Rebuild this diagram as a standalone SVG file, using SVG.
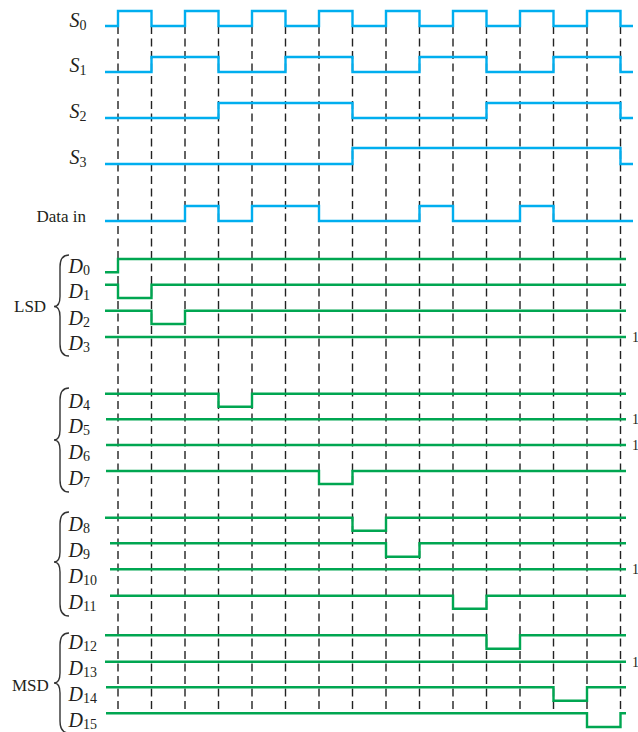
<svg xmlns="http://www.w3.org/2000/svg" width="638" height="732" viewBox="0 0 638 732">
<style>
.bg{fill:#fff}
.blue{fill:none;stroke:#00aeef;stroke-width:2.4;stroke-linejoin:miter}
.green{fill:none;stroke:#00a651;stroke-width:2.4;stroke-linejoin:miter}
.dash{stroke:#222;stroke-width:1.4;stroke-dasharray:8 4.5}
.brace{fill:none;stroke:#333;stroke-width:1.4}
.var{font-family:"Liberation Serif",serif;font-style:italic;font-size:20px;fill:#231f20}
.sub{font-style:normal;font-size:14px}
.lbl{font-family:"Liberation Serif",serif;font-size:17px;fill:#231f20}
.one{font-family:"Liberation Serif",serif;font-size:14px;fill:#231f20}
</style>
<rect class="bg" x="0" y="0" width="638" height="732"/>
<g id="clock-lines">
<line class="dash" x1="118" y1="26" x2="118" y2="713"/>
<line class="dash" x1="151.5" y1="26" x2="151.5" y2="713"/>
<line class="dash" x1="185" y1="26" x2="185" y2="713"/>
<line class="dash" x1="218.5" y1="26" x2="218.5" y2="713"/>
<line class="dash" x1="252" y1="26" x2="252" y2="713"/>
<line class="dash" x1="285.5" y1="26" x2="285.5" y2="713"/>
<line class="dash" x1="319" y1="26" x2="319" y2="713"/>
<line class="dash" x1="352.5" y1="26" x2="352.5" y2="713"/>
<line class="dash" x1="386" y1="26" x2="386" y2="713"/>
<line class="dash" x1="419.5" y1="26" x2="419.5" y2="713"/>
<line class="dash" x1="453" y1="26" x2="453" y2="713"/>
<line class="dash" x1="486.5" y1="26" x2="486.5" y2="713"/>
<line class="dash" x1="520" y1="26" x2="520" y2="713"/>
<line class="dash" x1="553.5" y1="26" x2="553.5" y2="713"/>
<line class="dash" x1="587" y1="26" x2="587" y2="713"/>
<line class="dash" x1="620.5" y1="26" x2="620.5" y2="713"/>
</g>
<g id="S0"><path class="blue" d="M105,26 H118 V11 H151.5 V26 H185 V11 H218.5 V26 H252 V11 H285.5 V26 H319 V11 H352.5 V26 H386 V11 H419.5 V26 H453 V11 H486.5 V26 H520 V11 H553.5 V26 H587 V11 H620.5 V26 H633"/><text class="var" x="69.5" y="26.5">S<tspan class="sub" dy="3">0</tspan></text></g>
<g id="S1"><path class="blue" d="M105,72 H151.5 V57 H218.5 V72 H285.5 V57 H352.5 V72 H419.5 V57 H486.5 V72 H553.5 V57 H620.5 V72 H633"/><text class="var" x="69.5" y="72">S<tspan class="sub" dy="3">1</tspan></text></g>
<g id="S2"><path class="blue" d="M105,118 H218.5 V103 H352.5 V118 H486.5 V103 H620.5 V118 H633"/><text class="var" x="69.5" y="118">S<tspan class="sub" dy="3">2</tspan></text></g>
<g id="S3"><path class="blue" d="M105,164 H352.5 V148 H620.5 V164 H633"/><text class="var" x="69.5" y="164">S<tspan class="sub" dy="3">3</tspan></text></g>
<g id="DataIn"><path class="blue" d="M105,221 H185 V206 H218.5 V221 H252 V206 H319 V221 H419.5 V206 H453 V221 H520 V206 H553.5 V221 H633"/><text class="lbl" x="36.5" y="221.5">Data in</text></g>
<g id="LSD"><path class="brace" d="M69,255 C63,255 60,259 60,267 V296.5 C60,302.5 58,306.5 54,306.5 C58,306.5 60,310.5 60,316.5 V344 C60,352 63,356 69,356"/><text class="lbl" x="14" y="312">LSD</text></g>
<g id="D0"><path class="green" d="M105,272.3 H118 V259 H626"/><text class="var" x="68.5" y="273">D<tspan class="sub" dy="2">0</tspan></text></g>
<g id="D1"><path class="green" d="M105,284.7 H118 V298 H151.5 V284.7 H626"/><text class="var" x="68.5" y="298">D<tspan class="sub" dy="2">1</tspan></text></g>
<g id="D2"><path class="green" d="M105,310.7 H151.5 V324 H185 V310.7 H626"/><text class="var" x="68.5" y="324.5">D<tspan class="sub" dy="2">2</tspan></text></g>
<g id="D3"><path class="green" d="M105,337 H626"/><text class="var" x="68.5" y="350">D<tspan class="sub" dy="2">3</tspan></text><text class="one" x="632" y="342">1</text></g>
<g id="group2"><path class="brace" d="M69,388 C63,388 60,392 60,400 V430 C60,436 58,440 54,440 C58,440 60,444 60,450 V480 C60,488 63,492 69,492"/></g>
<g id="D4"><path class="green" d="M105,393.7 H218.5 V406.7 H252 V393.7 H626"/><text class="var" x="68.5" y="407.5">D<tspan class="sub" dy="2">4</tspan></text></g>
<g id="D5"><path class="green" d="M106,419.3 H626"/><text class="var" x="68.5" y="433">D<tspan class="sub" dy="2">5</tspan></text><text class="one" x="632" y="424">1</text></g>
<g id="D6"><path class="green" d="M106,445 H626"/><text class="var" x="68.5" y="458.5">D<tspan class="sub" dy="2">6</tspan></text><text class="one" x="632" y="450">1</text></g>
<g id="D7"><path class="green" d="M106,471 H319 V484 H352.5 V471 H626"/><text class="var" x="68.5" y="484.5">D<tspan class="sub" dy="2">7</tspan></text></g>
<g id="group3"><path class="brace" d="M69,512 C63,512 60,516 60,524 V552 C60,558 58,562 54,562 C58,562 60,566 60,572 V604 C60,612 63,616 69,616"/></g>
<g id="D8"><path class="green" d="M105,517.7 H352.5 V530.7 H386 V517.7 H626"/><text class="var" x="68.5" y="531">D<tspan class="sub" dy="2">8</tspan></text></g>
<g id="D9"><path class="green" d="M110,543.3 H386 V556.7 H419.5 V543.3 H626"/><text class="var" x="68.5" y="557">D<tspan class="sub" dy="2">9</tspan></text></g>
<g id="D10"><path class="green" d="M110,569.3 H626"/><text class="var" x="68.5" y="583">D<tspan class="sub" dy="2">10</tspan></text><text class="one" x="632" y="574">1</text></g>
<g id="D11"><path class="green" d="M110,595.7 H453 V608.7 H486.5 V595.7 H626"/><text class="var" x="68.5" y="609">D<tspan class="sub" dy="2">11</tspan></text></g>
<g id="MSD"><path class="brace" d="M69,633 C63,633 60,637 60,645 V673 C60,679 58,683 54,683 C58,683 60,687 60,693 V721 C60,729 63,733 69,733"/><text class="lbl" x="12" y="690.5">MSD</text></g>
<g id="D12"><path class="green" d="M105,635.3 H486.5 V648.7 H520 V635.3 H626"/><text class="var" x="68.5" y="649">D<tspan class="sub" dy="2">12</tspan></text></g>
<g id="D13"><path class="green" d="M105,661.7 H626"/><text class="var" x="68.5" y="675">D<tspan class="sub" dy="2">13</tspan></text><text class="one" x="632" y="666.5">1</text></g>
<g id="D14"><path class="green" d="M106,687.3 H553.5 V700.7 H587 V687.3 H626"/><text class="var" x="68.5" y="701">D<tspan class="sub" dy="2">14</tspan></text></g>
<g id="D15"><path class="green" d="M106,713.3 H587 V727 H620.5 V713.3 H626"/><text class="var" x="68.5" y="727">D<tspan class="sub" dy="2">15</tspan></text></g>
</svg>
